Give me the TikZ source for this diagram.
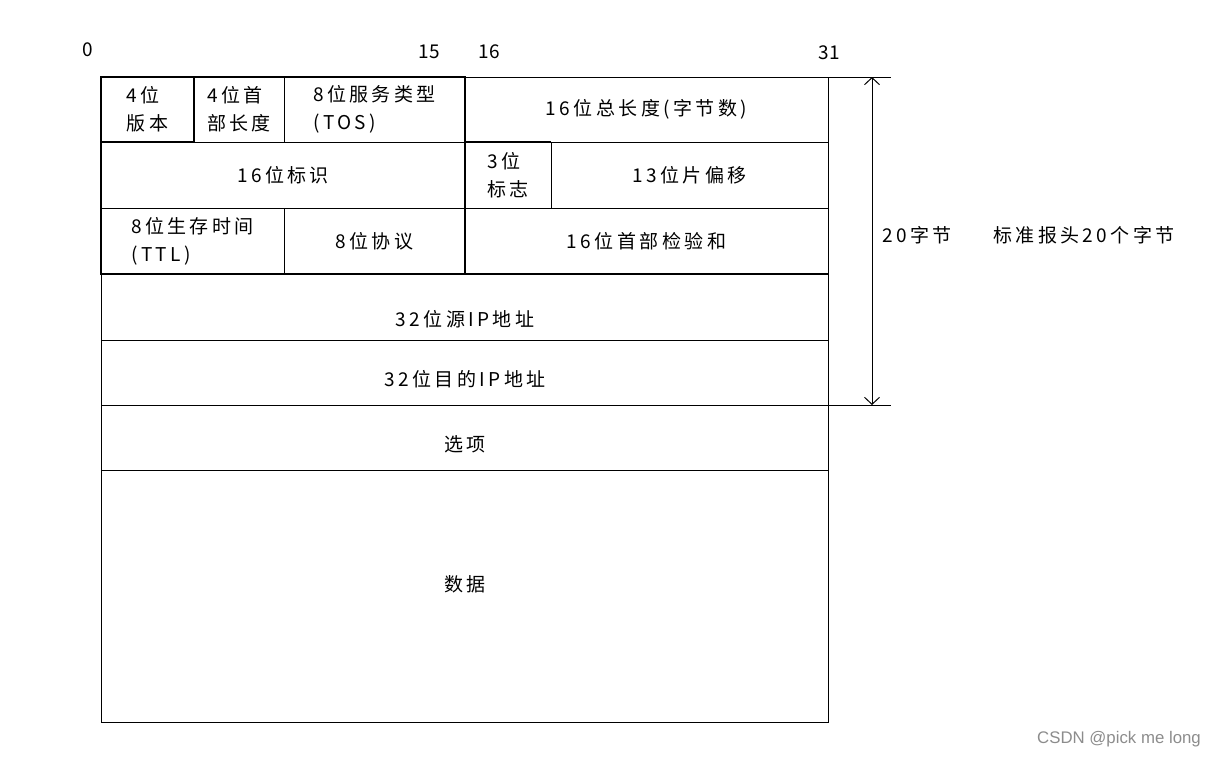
\documentclass[tikz,border=0pt]{standalone}
\usepackage{fontspec}
\setmainfont{Noto Sans CJK SC}[LetterSpace=18]
\newfontfamily\numfont{Noto Sans CJK SC}
\newfontfamily\markfont{Liberation Sans}
\usetikzlibrary{arrows.meta}

\tikzset{
  cell/.style={draw, line width=1pt, anchor=north west, inner sep=0pt, outer sep=0pt,
    align=left, font=\fontsize{19}{28}\selectfont},
  bitnum/.style={font=\numfont\fontsize{19}{22}\selectfont},
  sidenote/.style={font=\fontsize{19}{22}\selectfont},
  thick line/.style={line width=2pt},
  size arrow/.style={{Straight Barb[length=7pt,width=15pt]}-{Straight Barb[length=7pt,width=15pt]}, line width=1pt}
}

\begin{document}
\begin{tikzpicture}[x=1pt, y=-1pt]
    \useasboundingbox (0,0) rectangle (1216,758);

    % bit positions
    \node [bitnum] (b0) at (88,50) {0};
    \node [bitnum] (b15) at (429,52) {15};
    \node [bitnum] (b16) at (489,52) {16};
    \node [bitnum] (b31) at (829,53) {31};

    % row 1
    \node [cell, minimum width=93pt, minimum height=65pt] (ver) at (101,77) {4位\\版本};
    \node [cell, minimum width=90pt, minimum height=65pt] (ihl) at (194,77) {4位首\\部长度};
    \node [cell, minimum width=181pt, minimum height=65pt] (tos) at (284,77) {8位服务类型\\(TOS)};
    \node [cell, minimum width=363pt, minimum height=65pt] (len) at (465,77) {16位总长度(字节数)};

    % row 2
    \node [cell, minimum width=364pt, minimum height=66pt] (ident) at (101,142) {16位标识};
    \node [cell, minimum width=86pt, minimum height=66pt] (flag) at (465,142) {3位\\标志};
    \node [cell, minimum width=277pt, minimum height=66pt] (frag) at (551,142) {13位片偏移};

    % row 3
    \node [cell, minimum width=183pt, minimum height=66pt] (ttl) at (101,208) {8位生存时间\\(TTL)};
    \node [cell, minimum width=181pt, minimum height=66pt] (proto) at (284,208) {8位协议};
    \node [cell, minimum width=363pt, minimum height=66pt] (csum) at (465,208) {16位首部检验和};

    % rows 4 to 7
    \node [cell, minimum width=727pt, minimum height=66pt] (src) at (101,274) {};
    \node [cell, minimum width=727pt, minimum height=65pt] (dst) at (101,340) {};
    \node [cell, minimum width=727pt, minimum height=65pt] (opt) at (101,405) {};
    \node [cell, minimum width=727pt, minimum height=252pt] (data) at (101,470) {};
    \node [sidenote] (srct) at (465,319) {32位源IP地址};
    \node [sidenote] (dstt) at (465,379) {32位目的IP地址};
    \node [sidenote] (optt) at (465,444) {选项};
    \node [sidenote] (datat) at (465,584) {数据};

    % heavier borders
    \draw [thick line] (ver.north west) rectangle (ver.south east);
    \draw [thick line] (ver.north west) -- (tos.north east) -- (proto.south east) -- (ttl.south west) -- cycle;
    \draw [thick line] (csum.south west) -- (csum.south east);
    \draw [thick line] (flag.north west) -- (flag.north east);

    % header size
    \coordinate (htop) at (891,77);
    \coordinate (hbot) at (891,405);
    \coordinate (atop) at (872,77);
    \coordinate (abot) at (872,405);
    \draw [line width=1pt] (len.north east) -- (htop);
    \draw [line width=1pt] (dst.south east) -- (hbot);
    \draw [size arrow] (atop) -- (abot);

    \node [sidenote] (hsize) at (917,235) {20字节};
    \node [sidenote] (hnote) at (1084,235) {标准报头20个字节};

    \node [font=\markfont\fontsize{16.8}{20}\selectfont, text=black!45] (mark) at (1119,739) {CSDN @pick me long};
  \end{tikzpicture}
\end{document}
